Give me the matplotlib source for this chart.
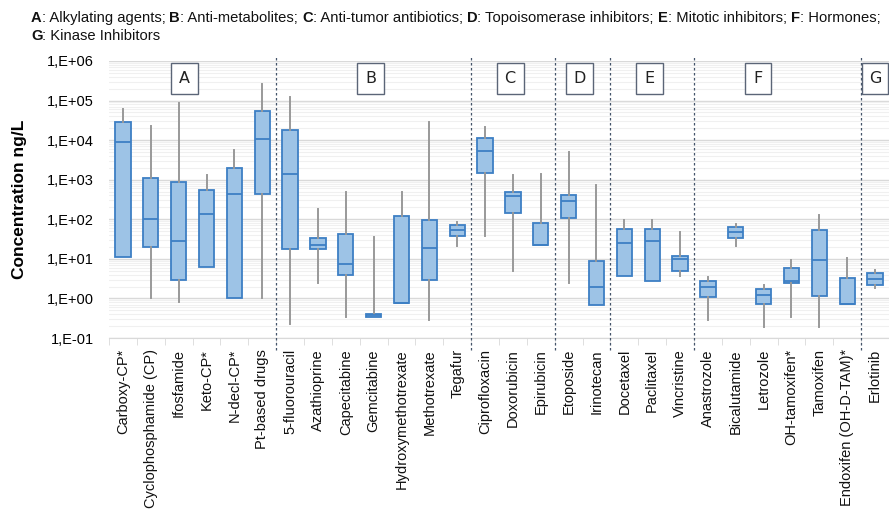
import numpy as np
import matplotlib.pyplot as plt
from matplotlib.patches import Rectangle
from matplotlib.ticker import FixedLocator, FuncFormatter, LogLocator, NullFormatter

plt.rcParams['font.family'] = ['Liberation Sans', 'DejaVu Sans']

# data (ng/L)
drugs = ['Carboxy-CP*', 'Cyclophosphamide (CP)', 'Ifosfamide', 'Keto-CP*', 'N-decl-CP*',
         'Pt-based drugs', '5-fluorouracil', 'Azathioprine', 'Capecitabine', 'Gemcitabine',
         'Hydroxymethotrexate', 'Methotrexate', 'Tegafur', 'Ciprofloxacin', 'Doxorubicin',
         'Epirubicin', 'Etoposide', 'Irinotecan', 'Docetaxel', 'Paclitaxel', 'Vincristine',
         'Anastrozole', 'Bicalutamide', 'Letrozole', 'OH-tamoxifen*', 'Tamoxifen',
         'Endoxifen (OH-D-TAM)*', 'Erlotinib']
whis_lo = [11, 1.0, 0.81, 6.3, 1.0, 1.0, 0.23, 2.4, 0.34, 0.34, 0.76, 0.29, 21.7, 38.7, 4.9,
           22, 2.4, 0.68, 3.66, 2.7, 3.6, 0.28, 21.3, 0.19, 0.34, 0.19, 0.72, 1.88]
q1 = [11, 20, 3.0, 6.3, 1.0, 438, 17.6, 18.2, 3.8, 0.34, 0.76, 2.9, 38, 1460, 143,
      22, 107, 0.68, 3.66, 2.7, 5.0, 1.1, 34.5, 0.72, 2.4, 1.12, 0.72, 2.2]
med = [8900, 100, 29, 137, 430, 11000, 1400, 22, 7.3, 0.38, 0.76, 18.6, 53, 5430, 397,
       22, 296, 1.93, 25.8, 29, 9.8, 1.93, 49, 1.23, 2.7, 9.1, 0.72, 3.13]
q3 = [29000, 1090, 900, 543, 2020, 56000, 17800, 33, 42, 0.41, 122, 98, 71, 11600, 500,
      80, 400, 8.9, 56, 57, 11.9, 2.8, 63, 1.75, 5.8, 54, 3.26, 4.35]
whis_hi = [60000, 23000, 89000, 1320, 5660, 270000, 125000, 180, 483, 36, 483, 29000, 84.5,
           21000, 1300, 1380, 4950, 726, 95, 95, 47, 3.45, 75, 2.2, 9.6, 129, 10.4, 5.3]

groups = ['A', 'B', 'C', 'D', 'E', 'F', 'G']
group_x = [2.2, 8.9, 13.9, 16.4, 18.9, 22.8, 27.0]
separators = [5.5, 12.5, 15.5, 17.5, 20.5, 26.5]

header = [
    [('A', 'bold'), (': Alkylating agents; ', 'normal'), ('B', 'bold'), (': Anti-metabolites; ', 'normal'),
     ('C', 'bold'), (': Anti-tumor antibiotics; ', 'normal'), ('D', 'bold'),
     (': Topoisomerase inhibitors; ', 'normal'), ('E', 'bold'), (': Mitotic inhibitors; ', 'normal'),
     ('F', 'bold'), (': Hormones;', 'normal')],
    [('G', 'bold'), (': Kinase Inhibitors', 'normal')],
]

W, H = 889, 514
fig = plt.figure(figsize=(W / 100, H / 100), dpi=100)
ax = fig.add_axes([109 / W, (H - 338) / H, 780 / W, 277 / H])

stats = []
for i in range(len(drugs)):
    stats.append(dict(whislo=whis_lo[i], q1=q1[i], med=med[i], q3=q3[i], whishi=whis_hi[i],
                      fliers=[], label=drugs[i]))

ax.bxp(stats, positions=range(len(drugs)), widths=0.55, patch_artist=True, showcaps=False,
       boxprops=dict(facecolor='#9dc3e6', edgecolor='#3d7fc4', linewidth=1.3),
       medianprops=dict(color='#3d7fc4', linewidth=1.3),
       whiskerprops=dict(color='#999999', linewidth=1.4), zorder=3)

ax.set_yscale('log')
ax.set_ylim(0.1, 1e6)
ax.set_xlim(-0.5, -0.5 + 780 / 28)
ax.yaxis.set_major_locator(FixedLocator([10.0 ** k for k in range(-1, 7)]))
ax.yaxis.set_major_formatter(FuncFormatter(lambda v, p: '1,E%+03d' % int(round(np.log10(v)))))
ax.yaxis.set_minor_locator(LogLocator(base=10, subs=np.arange(2, 10)))
ax.yaxis.set_minor_formatter(NullFormatter())
ax.grid(axis='y', which='major', color='#d9d9d9', linewidth=1.0, zorder=0)
ax.grid(axis='y', which='minor', color='#f0f0f0', linewidth=0.8, zorder=0)
ax.set_axisbelow(True)

ax.set_xticks(range(len(drugs)))
ax.set_xticklabels(drugs, rotation=90, fontsize=10.5, color='#111111')
ax.set_xticks(np.arange(-0.5, len(drugs), 1), minor=True)
ax.tick_params(axis='x', which='major', length=0, pad=8)
ax.tick_params(axis='x', which='minor', length=5, color='#d9d9d9')
ax.tick_params(axis='y', which='both', length=0, labelsize=10.5, pad=11)
for s in ['top', 'right', 'left']:
    ax.spines[s].set_visible(False)
ax.spines['bottom'].set_color('#d9d9d9')

ax.set_ylabel('Concentration ng/L', fontsize=12.5, fontweight='bold', labelpad=14)

tr = ax.get_xaxis_transform()
for xs in separators:
    ax.plot([xs, xs], [-0.045, 1.022], transform=tr, clip_on=False, color='#44546a',
            linestyle=(0, (2, 2)), linewidth=0.9, zorder=4)

for g, gx in zip(groups, group_x):
    ax.add_patch(Rectangle((gx - 0.48, 0.882), 0.96, 0.112, transform=tr, facecolor='white',
                           edgecolor='#5b6577', linewidth=1.0, zorder=5, clip_on=False))
    ax.text(gx, 0.938, g, transform=tr, ha='center', va='center', fontsize=11.5,
            family=['DejaVu Sans'], color='#222222', zorder=6)

# header line with bold group letters
renderer = fig.canvas.get_renderer()
for row, pieces in enumerate(header):
    x = 31
    y = H - (18 + row * 18)
    for txt, wt in pieces:
        t = fig.text(x / W, y / H, txt, fontsize=10.6, fontweight=wt, va='center', ha='left',
                     color='#111111')
        x += t.get_window_extent(renderer).width

fig.savefig('out.png', dpi=100)
